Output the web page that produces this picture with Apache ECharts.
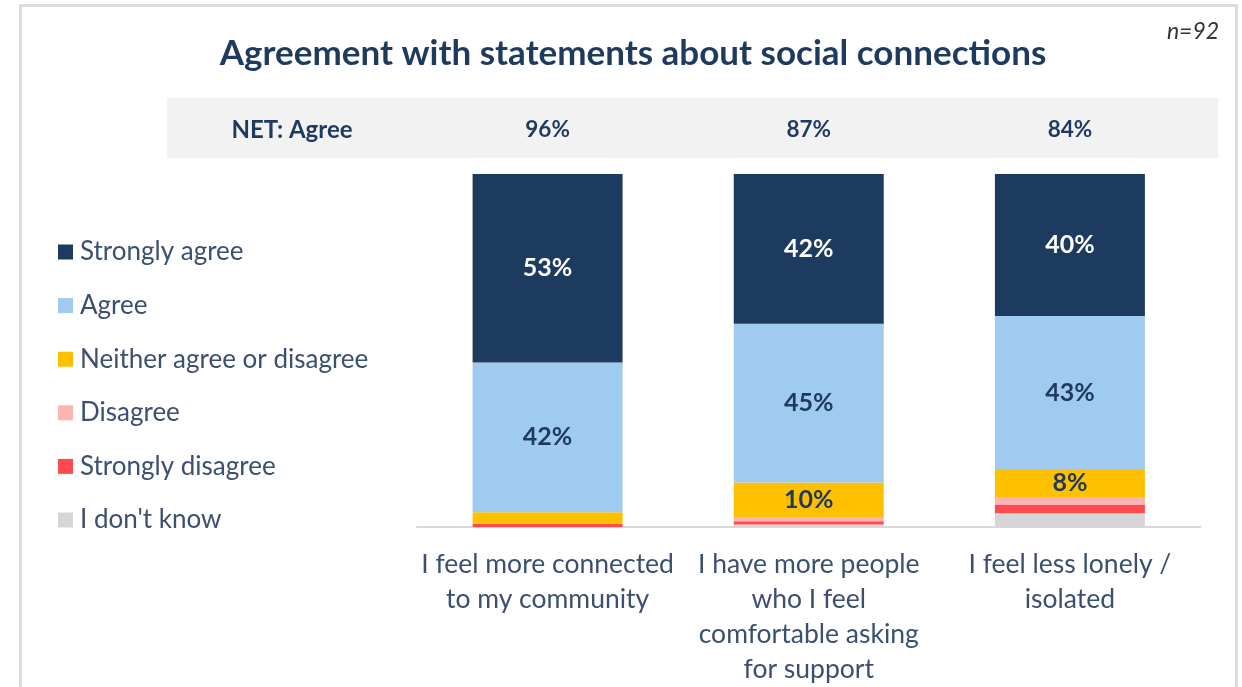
<!DOCTYPE html>
<html>
<head>
<meta charset="utf-8">
<script src="https://cdn.jsdelivr.net/npm/echarts@6/dist/echarts.min.js"></script>
<style>
  html, body { margin: 0; padding: 0; background: #ffffff; }
  #chart { width: 1242px; height: 687px; }
</style>
</head>
<body>
<div id="chart"></div>
<script>
// Survey statements (x categories)
const categories = [
  'I feel more connected\nto my community',
  'I have more people\nwho I feel\ncomfortable asking\nfor support',
  'I feel less lonely /\nisolated'
];

// Response shares, % of respondents
const strongAgree    = [53.4, 42.4, 40.2];
const agree          = [42.4, 45.0, 43.4];
const neither        = [3.2, 9.8, 8.1];
const disagree       = [0, 1.2, 2.1];
const strongDisagree = [1.0, 0.9, 2.3];
const dontKnow       = [0, 0.7, 3.9];

// NET: Agree row values
const netAgree = [96, 87, 84];

const legendOrder = ['Strongly agree', 'Agree', 'Neither agree or disagree', 'Disagree', 'Strongly disagree', "I don't know"];

const FONT = 'Lato, "Open Sans", sans-serif';
const NAVY = '#1f3a5f';
const TEXT = '#3b5070';

function pct(p) { return Math.round(p.value) + '%'; }

function bar(name, data, color, labelColor) {
  return {
    name: name,
    type: 'bar',
    stack: 'total',
    data: data,
    barWidth: 150,
    itemStyle: { color: color },
    label: {
      show: !!labelColor,
      position: 'inside',
      color: labelColor || NAVY,
      fontFamily: FONT,
      fontWeight: 'bold',
      fontSize: 25,
      formatter: function (p) { return p.value >= 5 ? pct(p) : ''; }
    },
    emphasis: { disabled: true }
  };
}

const chart = echarts.init(document.getElementById('chart'), null, { renderer: 'canvas' });

chart.setOption({
  animation: false,
  backgroundColor: '#ffffff',
  title: {
    text: 'Agreement with statements about social connections',
    left: 628,
    textAlign: 'center',
    top: 31,
    textStyle: { fontFamily: FONT, fontWeight: 'bold', fontSize: 35, color: NAVY }
  },
  graphic: [
    // frame
    { type: 'rect', z: 0, shape: { x: 20.5, y: 5.5, width: 1216, height: 700 },
      style: { fill: 'none', stroke: '#dcdcdc', lineWidth: 3 } },
    // NET band
    { type: 'rect', z: 0, shape: { x: 167, y: 98, width: 1051, height: 60 },
      style: { fill: '#f2f2f2' } },
    { type: 'text', z: 5, x: 292, y: 130,
      style: { text: 'NET: Agree', align: 'center', verticalAlign: 'middle',
               font: 'bold 24px ' + FONT, fill: NAVY } },
    { type: 'text', z: 5, x: 1193, y: 32,
      style: { text: 'n=92', align: 'center', verticalAlign: 'middle',
               font: 'italic 23px ' + FONT, fill: '#333333' } }
  ],
  legend: {
    orient: 'vertical',
    left: 53,
    top: 234,
    data: legendOrder,
    icon: 'rect',
    itemWidth: 15,
    itemHeight: 15,
    itemGap: 27.6,
    selectedMode: false,
    textStyle: { fontFamily: FONT, fontSize: 26, color: TEXT, lineHeight: 26, padding: [0, 0, 0, 2] }
  },
  grid: { left: 417, right: 41.5, top: 174, bottom: 160, containLabel: false },
  xAxis: [
    {
      type: 'category',
      data: categories,
      axisLine: { show: true, lineStyle: { color: '#d9d9d9', width: 2 } },
      axisTick: { show: false },
      axisLabel: { fontFamily: FONT, fontSize: 26.5, color: TEXT, lineHeight: 35, margin: 20, interval: 0 }
    },
    {
      type: 'category',
      position: 'top',
      data: netAgree.map(function (v) { return v + '%'; }),
      axisLine: { show: false },
      axisTick: { show: false },
      axisLabel: { fontFamily: FONT, fontSize: 22.5, fontWeight: 'bold', color: NAVY, margin: 33, interval: 0 }
    }
  ],
  yAxis: { type: 'value', min: 0, max: 100, show: false, splitLine: { show: false } },
  series: [
    bar("I don't know", dontKnow, '#d6d6d6'),
    bar('Strongly disagree', strongDisagree, '#ff4b4f'),
    bar('Disagree', disagree, '#ffb3b3'),
    bar('Neither agree or disagree', neither, '#ffc000', NAVY),
    bar('Agree', agree, '#9fcbf1', NAVY),
    bar('Strongly agree', strongAgree, '#1d3a5f', '#ffffff')
  ]
});
</script>
</body>
</html>
